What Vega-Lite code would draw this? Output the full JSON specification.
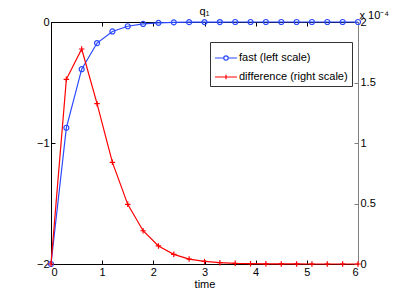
{
  "$schema": "https://vega.github.io/schema/vega-lite/v6.json",
  "autosize": {"type": "none"},
  "padding": {"left": 51, "top": 22, "right": 38, "bottom": 33},
  "width": 307,
  "height": 242,
  "background": "white",
  "title": {"text": "q₁", "fontSize": 11, "font": "Liberation Sans", "fontWeight": "normal", "color": "black", "offset": -8, "anchor": "middle"},
  "config": {
    "view": {"stroke": null},
    "font": "Liberation Sans",
    "axis": {"labelFont": "Liberation Sans", "labelFontSize": 11, "labelColor": "black", "grid": false, "domainColor": "black", "tickColor": "black", "titleFont": "Liberation Sans", "titleFontSize": 11, "titleFontWeight": "normal", "titleColor": "black"}
  },
  "datasets": {
    "fast": [
      {"time": 0.0, "value": -2.0, "series": "fast (left scale)"},
      {"time": 0.3, "value": -0.874, "series": "fast (left scale)"},
      {"time": 0.6, "value": -0.39, "series": "fast (left scale)"},
      {"time": 0.9, "value": -0.174, "series": "fast (left scale)"},
      {"time": 1.2, "value": -0.078, "series": "fast (left scale)"},
      {"time": 1.5, "value": -0.035, "series": "fast (left scale)"},
      {"time": 1.8, "value": -0.016, "series": "fast (left scale)"},
      {"time": 2.1, "value": -0.007, "series": "fast (left scale)"},
      {"time": 2.4, "value": -0.003, "series": "fast (left scale)"},
      {"time": 2.7, "value": -0.0014, "series": "fast (left scale)"},
      {"time": 3.0, "value": -0.0006, "series": "fast (left scale)"},
      {"time": 3.3, "value": -0.0003, "series": "fast (left scale)"},
      {"time": 3.6, "value": -0.0001, "series": "fast (left scale)"},
      {"time": 3.9, "value": -0.00005, "series": "fast (left scale)"},
      {"time": 4.2, "value": -0.00002, "series": "fast (left scale)"},
      {"time": 4.5, "value": -0.00001, "series": "fast (left scale)"},
      {"time": 4.8, "value": 0, "series": "fast (left scale)"},
      {"time": 5.1, "value": 0, "series": "fast (left scale)"},
      {"time": 5.4, "value": 0, "series": "fast (left scale)"},
      {"time": 5.7, "value": 0, "series": "fast (left scale)"},
      {"time": 6.0, "value": 0, "series": "fast (left scale)"}
    ],
    "diff": [
      {"time": 0.0, "value": 0.0, "series": "difference (right scale)"},
      {"time": 0.3, "value": 1.526, "series": "difference (right scale)"},
      {"time": 0.6, "value": 1.777, "series": "difference (right scale)"},
      {"time": 0.9, "value": 1.325, "series": "difference (right scale)"},
      {"time": 1.2, "value": 0.84, "series": "difference (right scale)"},
      {"time": 1.5, "value": 0.493, "series": "difference (right scale)"},
      {"time": 1.8, "value": 0.275, "series": "difference (right scale)"},
      {"time": 2.1, "value": 0.149, "series": "difference (right scale)"},
      {"time": 2.4, "value": 0.08, "series": "difference (right scale)"},
      {"time": 2.7, "value": 0.041, "series": "difference (right scale)"},
      {"time": 3.0, "value": 0.021, "series": "difference (right scale)"},
      {"time": 3.3, "value": 0.011, "series": "difference (right scale)"},
      {"time": 3.6, "value": 0.0055, "series": "difference (right scale)"},
      {"time": 3.9, "value": 0.0028, "series": "difference (right scale)"},
      {"time": 4.2, "value": 0.0014, "series": "difference (right scale)"},
      {"time": 4.5, "value": 0.0007, "series": "difference (right scale)"},
      {"time": 4.8, "value": 0.0003, "series": "difference (right scale)"},
      {"time": 5.1, "value": 0.0002, "series": "difference (right scale)"},
      {"time": 5.4, "value": 0.0001, "series": "difference (right scale)"},
      {"time": 5.7, "value": 0.00005, "series": "difference (right scale)"},
      {"time": 6.0, "value": 0.0, "series": "difference (right scale)"}
    ]
  },
  "layer": [
    {
      "data": {"name": "fast"},
      "mark": {"type": "line", "strokeWidth": 1.2, "clip": false, "point": {"shape": "circle", "filled": false, "size": 25, "strokeWidth": 1.2}},
      "encoding": {
        "x": {"field": "time", "type": "quantitative", "scale": {"domain": [0, 6], "nice": false, "zero": false},
          "axis": {"orient": "bottom", "values": [0, 1, 2, 3, 4, 5, 6], "format": "~g", "tickSize": -4, "labelPadding": 6, "title": "time", "titlePadding": 1, "domainColor": "black"}},
        "y": {"field": "value", "type": "quantitative", "scale": {"domain": [-2, 0], "nice": false, "zero": false},
          "axis": {"orient": "left", "values": [-2, -1, 0], "format": "~g", "tickSize": -4, "labelPadding": 6, "title": null}},
        "color": {"field": "series", "type": "nominal",
          "scale": {"domain": ["fast (left scale)", "difference (right scale)"], "range": ["#2a48ff", "#ff0000"]},
          "legend": {"title": null, "orient": "none", "legendX": 159, "legendY": 20, "fillColor": "white", "strokeColor": "#333333", "padding": 4,
            "labelFont": "Liberation Sans", "labelFontSize": 11, "labelColor": "black", "symbolSize": 484, "symbolStrokeWidth": 1.2, "labelOffset": 1, "rowPadding": 2,
            "encode": {"symbols": {"update": {"fill": {"value": "transparent"}, "shape": {"signal": "datum.value === 'fast (left scale)' ? 'M-1,0H-0.2A0.2,0.2 0 1,1 0.2,0A0.2,0.2 0 1,1 -0.2,0M0.2,0H1' : 'M-1,0H1M0,-0.2V0.2'"}}}}}}
      }
    },
    {
      "data": {"name": "diff"},
      "mark": {"type": "line", "strokeWidth": 1.2, "clip": false, "point": {"shape": "M-1,0H1M0,-1V1", "filled": false, "size": 30, "strokeWidth": 1.2}},
      "encoding": {
        "x": {"field": "time", "type": "quantitative", "scale": {"domain": [0, 6], "nice": false, "zero": false},
          "axis": {"orient": "top", "values": [0, 1, 2, 3, 4, 5, 6], "tickSize": -4, "labels": false, "title": null, "domainColor": "black"}},
        "y": {"field": "value", "type": "quantitative", "scale": {"domain": [0, 2], "nice": false, "zero": false},
          "axis": {"orient": "right", "values": [0, 0.5, 1, 1.5, 2], "format": "~g", "tickSize": -4, "labelPadding": 6, "domainColor": "#808080", "tickColor": "#808080",
            "title": "x 10⁻⁴", "titleAngle": 0, "titleAlign": "left", "titleBaseline": "middle", "titleX": 1, "titleY": -7, "titleFontSize": 11}},
        "color": {"field": "series", "type": "nominal"}
      }
    }
  ],
  "resolve": {"scale": {"y": "independent"}, "axis": {"x": "independent", "y": "independent"}}
}
